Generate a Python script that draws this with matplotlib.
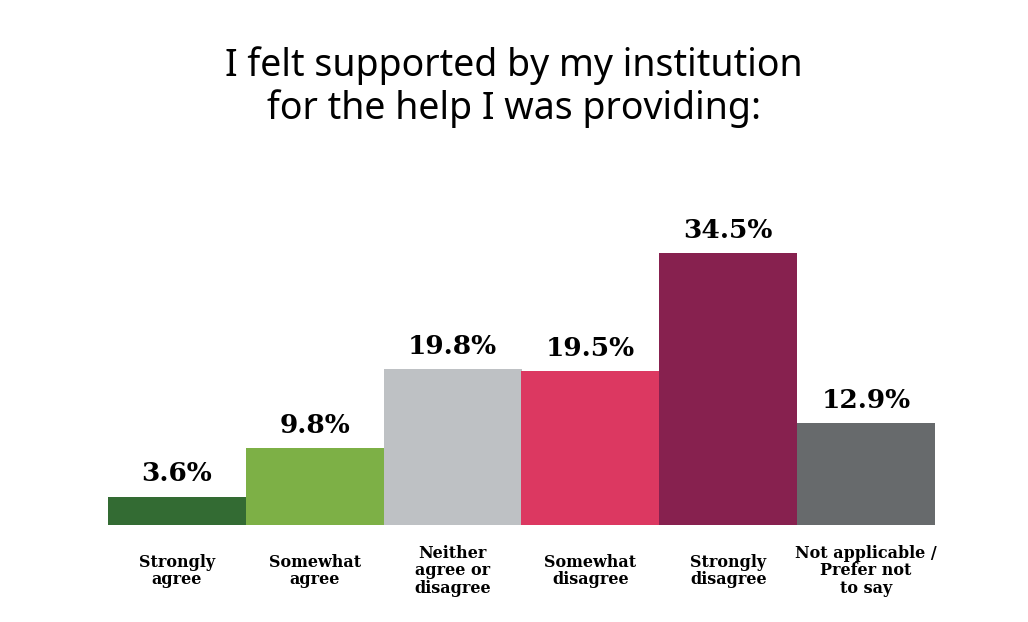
import matplotlib
matplotlib.use("Agg")
import matplotlib.pyplot as plt

categories = ["Strongly\nagree", "Somewhat\nagree", "Neither\nagree or\ndisagree",
              "Somewhat\ndisagree", "Strongly\ndisagree", "Not applicable /\nPrefer not\nto say"]
values = [3.6, 9.8, 19.8, 19.5, 34.5, 12.9]
colors = ["#336b33", "#7db046", "#bec1c4", "#dc3861", "#87214f", "#676a6c"]

fig = plt.figure(figsize=(10.28, 6.22), dpi=100)
ax = fig.add_axes([108/1028, 97/622, 827/1028, 425/622])
x = range(len(values))
ax.bar(x, values, width=1.0, color=colors)
ax.set_xlim(-0.5, len(values) - 0.5)
ax.set_ylim(0, 425 / 7.88)

for i, v in enumerate(values):
    ax.text(i, v + 1.3, f"{v}%", ha="center", va="bottom",
            fontsize=19, fontweight="bold", family="DejaVu Serif")

ax.set_xticks(list(x))
ax.set_xticklabels(categories, fontsize=11.5, fontweight="bold", family="DejaVu Serif",
                   linespacing=1.05)
ax.tick_params(axis="x", length=0, pad=20)
ax.set_yticks([])
for s in ax.spines.values():
    s.set_visible(False)
# center the multi-line tick labels vertically around the same line
for lab in ax.get_xticklabels():
    lab.set_va("center")
ax.tick_params(axis="x", pad=33)

fig.text(0.5, 0.86, "I felt supported by my institution\nfor the help I was providing:",
         ha="center", va="center", fontsize=27, family="Noto Sans", linespacing=1.15)

fig.savefig("out.png", dpi=100)
